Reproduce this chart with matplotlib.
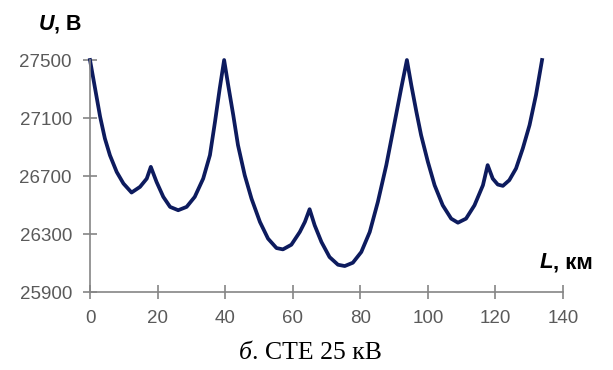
import matplotlib
matplotlib.use("Agg")
import matplotlib.pyplot as plt

# distance along the line, km
dist_km = [0, 1.5, 3.0, 4.4, 5.9, 7.9, 9.9, 12.3, 14.8, 16.8, 18.0,
           19.7, 21.7, 23.7, 26.1, 28.6, 31.0, 33.5, 35.5, 37.0, 38.4, 39.7,
           40.9, 42.4, 43.8, 45.8, 47.8, 50.3, 52.7, 55.2, 57.1, 59.6, 62.1, 63.6, 65.0,
           66.5, 68.5, 70.9, 73.4, 75.4, 77.8, 80.3, 82.8, 85.2, 87.7, 90.2, 92.1, 93.8,
           95.1, 96.6, 98.0, 100.0, 102.0, 104.4, 106.9, 108.9, 111.3, 113.8, 116.3, 117.7,
           119.2, 120.7, 122.2, 124.1, 126.1, 128.1, 130.1, 132.0, 133.8]
# voltage, V
voltage = [27500, 27304, 27108, 26959, 26843, 26728, 26648, 26586, 26625, 26682, 26763,
           26659, 26556, 26487, 26464, 26487, 26556, 26682, 26844, 27074, 27304, 27500,
           27327, 27120, 26913, 26705, 26544, 26383, 26268, 26203, 26194, 26226, 26314, 26383, 26471,
           26360, 26245, 26141, 26088, 26079, 26102, 26176, 26314, 26521, 26775, 27074, 27304, 27500,
           27327, 27143, 26982, 26798, 26636, 26498, 26406, 26378, 26406, 26498, 26636, 26775,
           26682, 26641, 26632, 26671, 26752, 26890, 27051, 27258, 27500]

x_ticks = [0, 20, 40, 60, 80, 100, 120, 140]
y_ticks = [25900, 26300, 26700, 27100, 27500]

W, H = 613, 370
fig = plt.figure(figsize=(W / 100, H / 100), dpi=100)
ax = fig.add_axes([90 / W, 1 - 292 / H, 473 / W, 232 / H])

ax.plot(dist_km, voltage, color="#0d1b5e", lw=2.7, solid_joinstyle="round",
        clip_on=False)

ax.set_xlim(0, 140)
ax.set_ylim(25900, 27500)
ax.set_xticks(x_ticks)
ax.set_yticks(y_ticks)

grey = "#858585"
for s in ("top", "right"):
    ax.spines[s].set_visible(False)
for s in ("left", "bottom"):
    ax.spines[s].set_color(grey)
    ax.spines[s].set_linewidth(1.2)
ax.tick_params(direction="inout", length=10, width=1.2, color=grey,
               labelcolor="#5a5a5a", labelsize=13.5, pad=8)
for lab in ax.get_xticklabels() + ax.get_yticklabels():
    lab.set_family("Liberation Sans")

fig.text(54 / W, 1 - 24 / H, "U", fontsize=15.5, fontweight="bold", style="italic",
         family="Liberation Sans", ha="right", va="center")
fig.text(54 / W, 1 - 24 / H, ", В", fontsize=15.5, fontweight="bold",
         family="Liberation Sans", ha="left", va="center")

fig.text(553 / W, 1 - 263 / H, "L", fontsize=16, fontweight="bold", style="italic",
         family="Liberation Sans", ha="right", va="center")
fig.text(553 / W, 1 - 263 / H, ", км", fontsize=16, fontweight="bold",
         family="Liberation Sans", ha="left", va="center")

fig.text(252 / W, 1 - 353 / H, "б", fontsize=18.5, style="italic",
         family="Liberation Serif", ha="right", va="center")
fig.text(252 / W, 1 - 353 / H, ". СТЕ 25 кВ", fontsize=18.5,
         family="Liberation Serif", ha="left", va="center")

fig.savefig("out.png", dpi=100)
